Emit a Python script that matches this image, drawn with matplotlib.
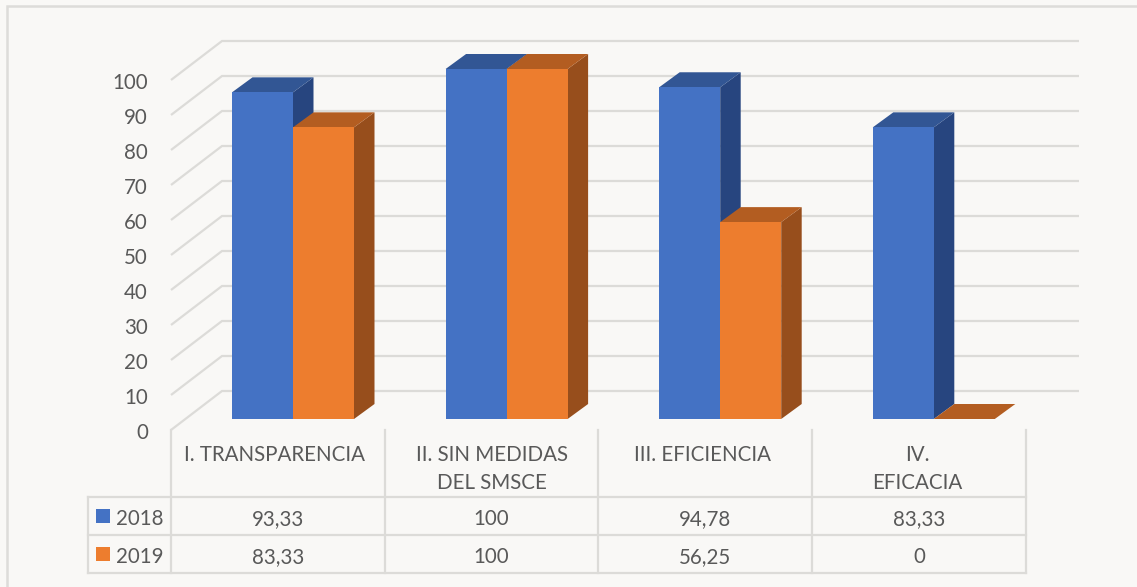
import matplotlib
matplotlib.use("Agg")
import matplotlib.pyplot as plt
from matplotlib.patches import Polygon, Rectangle

categories = ["I. TRANSPARENCIA", "II. SIN MEDIDAS\nDEL SMSCE", "III. EFICIENCIA", "IV.\nEFICACIA"]
series_names = ["2018", "2019"]
values_2018 = [93.33, 100, 94.78, 83.33]
values_2019 = [83.33, 100, 56.25, 0]
labels_2018 = ["93,33", "100", "94,78", "83,33"]
labels_2019 = ["83,33", "100", "56,25", "0"]
y_ticks = [0, 10, 20, 30, 40, 50, 60, 70, 80, 90, 100]

W, H = 1137, 587
BG = "#f9f8f6"
GRID = "#dcdbd8"
TXT = "#595959"
FRONT = ["#4472c4", "#ed7d2e"]
SIDE = ["#27457f", "#974e1c"]
TOP = ["#325694", "#b35d21"]
plt.rcParams["font.family"] = ["Lato", "DejaVu Sans"]
FS = 14.8

fig = plt.figure(figsize=(W / 100, H / 100), dpi=100, facecolor=BG)

# pixel overlay for the outer frame
bg = fig.add_axes([0, 0, 1, 1], zorder=0)
bg.set_xlim(0, W); bg.set_ylim(H, 0); bg.axis("off")
bg.plot([7, 7, W], [H, 6, 6], color="#dddcd9", lw=1.8, solid_joinstyle="miter")

# main plot axes: x in category units, y in value units
L, R, Y0, Y100 = 171, 1026, 419, 69
ax = fig.add_axes([L / W, 1 - Y0 / H, (R - L) / W, (Y0 - Y100) / H], zorder=1)
ax.set_xlim(0, 4); ax.set_ylim(0, 100); ax.axis("off"); ax.patch.set_alpha(0)
ux = (R - L) / 4
uy = (Y0 - Y100) / 100
front_dy = -11 / uy
back_dy = 28 / uy
back_dx = 51 / ux
right_x = (1079 - L) / ux
for v in y_ticks:
    ax.plot([0, back_dx, right_x], [v + front_dy, v + back_dy, v + back_dy],
            color=GRID, lw=1.6, clip_on=False, zorder=1,
            solid_joinstyle="miter", solid_capstyle="butt")

bw = 61 / ux
dx = 20.5 / ux
dy = 15 / uy
start = 61 / ux
pitch = 213.6 / ux
for i in range(len(categories)):
    for j, vals in enumerate((values_2018, values_2019)):
        x0 = start + i * pitch + j * bw
        x1 = x0 + bw
        v = vals[i]
        z = 3 + j + i * 3
        ax.add_patch(Polygon([(x1, 0), (x1 + dx, dy), (x1 + dx, v + dy), (x1, v)],
                             fc=SIDE[j], ec="none", clip_on=False, zorder=z))
        ax.add_patch(Polygon([(x0, v), (x0 + dx, v + dy), (x1 + dx, v + dy), (x1, v)],
                             fc=TOP[j], ec="none", clip_on=False, zorder=z))
        ax.bar(x0, v, bw, align="edge", color=FRONT[j], clip_on=False, zorder=z + 0.5)

# y tick labels
for v in y_ticks:
    ax.text(-23 / ux, v + front_dy - 1 / uy, str(v), ha="right", va="center_baseline",
            fontsize=FS, color=TXT, clip_on=False)

# data table in pixel coordinates
ov = fig.add_axes([0, 0, 1, 1], zorder=2)
ov.set_xlim(0, W); ov.set_ylim(H, 0); ov.axis("off"); ov.patch.set_alpha(0)
edges = [171, 385, 598, 812, 1026]
rows = [497, 535, 573]
for x in edges:
    ov.plot([x, x], [430, 573], color=GRID, lw=1.6)
ov.plot([88, 88], [497, 573], color=GRID, lw=1.6)
for y in rows:
    ov.plot([88, 1026], [y, y], color=GRID, lw=1.6)

cat_shift = [-3, 0, -3, -2]
for i, c in enumerate(categories):
    cx = (edges[i] + edges[i + 1]) / 2 + cat_shift[i]
    ov.text(cx, 455 if "\n" not in c else 469, c, ha="center", va="center",
            fontsize=FS, color=TXT, linespacing=1.55)
for r, (name, labs) in enumerate(zip(series_names, (labels_2018, labels_2019))):
    yc = (rows[r] + rows[r + 1]) / 2
    ov.add_patch(Rectangle((96, yc - 7), 14, 14, fc=FRONT[r], ec="none"))
    ov.text(116, yc + 1, name, ha="left", va="center_baseline", fontsize=FS, color=TXT)
    for i, s in enumerate(labs):
        ov.text((edges[i] + edges[i + 1]) / 2, yc + 1, s, ha="center", va="center_baseline",
                fontsize=FS, color=TXT)

fig.savefig("out.png", dpi=100, facecolor=BG)
